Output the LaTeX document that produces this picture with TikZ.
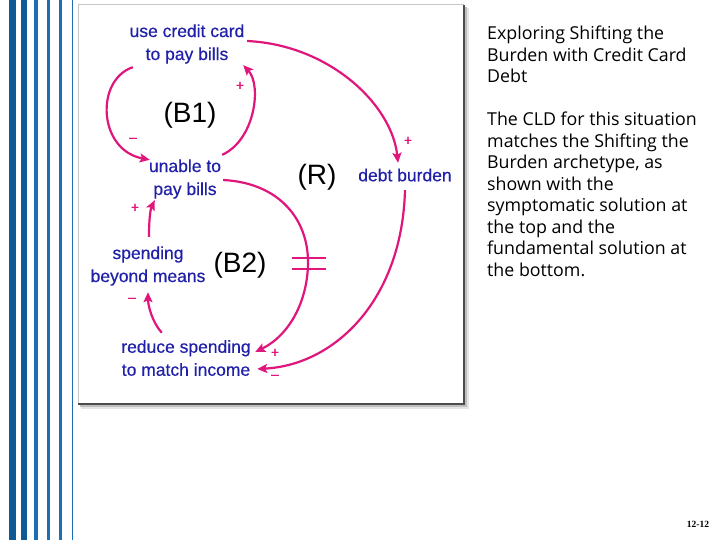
\documentclass[tikz,border=0pt]{standalone}
\usepackage{fontspec}
\setmainfont{Liberation Sans}
\newfontfamily\dgfont[FakeBold=0.4]{Liberation Sans}
\newfontfamily\rtfont{Open Sans}
\newfontfamily\pgfont{Liberation Serif}
\usetikzlibrary{arrows.meta,calc}
\definecolor{pinkc}{RGB}{224,22,124}
\definecolor{textb}{RGB}{32,32,168}
\definecolor{stripeA}{RGB}{14,90,150}
\definecolor{stripeB}{RGB}{30,110,178}
\begin{document}
\begin{tikzpicture}[x=1pt,y=-1pt,
  var/.style={font=\dgfont\fontsize{17.5}{23}\selectfont, text=textb, align=center, inner sep=0pt},
  looplbl/.style={font=\fontsize{28}{28}\selectfont, text=black, inner sep=0pt},
  link/.style={draw=pinkc, line width=2.2pt, -{Stealth[length=10pt,width=9pt,inset=2pt]}},
  pol/.style={font=\dgfont\fontsize{14}{14}\selectfont, text=pinkc, inner sep=0pt},
  hash/.style={draw=pinkc, line width=2.5pt},
  stripe/.style={fill=#1, draw=none},
  para/.style={anchor=north west, inner sep=0pt, align=left, font=\rtfont\fontsize{17.8}{21.5}\selectfont, text=black}
]
\useasboundingbox (0,0) rectangle (720,540);
\fill[white] (0,0) rectangle (720,540);

% left stripes
\fill[stripe=stripeA] (9,0) rectangle (16,540);
\fill[stripe=stripeA] (21,0) rectangle (27,540);
\fill[stripe=stripeB] (34,0) rectangle (38,540);
\fill[stripe=stripeB] (47,0) rectangle (50,540);
\fill[stripe=stripeB] (59,0) rectangle (61.5,540);
\fill[stripe=stripeB] (71.8,0) rectangle (72.8,540);

% picture frame with shadow
\fill[gray!20] (81,8) rectangle (468.5,408.5);
\fill[gray!50] (80,7) rectangle (467,407);
\fill[white] (78,5) rectangle (464,404);
\draw[gray!45, line width=1pt] (78,404) -- (78,5) -- (464,5);
\draw[black!70, line width=1.6pt] (464,5) -- (464,404) -- (78,404);

% variables
\node[var, minimum width=120pt, minimum height=46pt] (ucc) at (187,44) {use credit card\\to pay bills};
\node[var, minimum width=80pt, minimum height=46pt] (unable) at (185,179) {unable to\\pay bills};
\node[var, minimum width=94pt, minimum height=20pt] (debt) at (405,175) {debt burden};
\node[var, minimum width=120pt, minimum height=46pt] (spend) at (148,266) {spending\\beyond means};
\node[var, minimum width=136pt, minimum height=46pt] (reduce) at (186,358) {reduce spending\\to match income};

% loop labels
\node[looplbl] (b1) at (190,115) {(B1)};
\node[looplbl] (r) at (317,177) {(R)};
\node[looplbl] (b2) at (240,265) {(B2)};

% links
\draw[link] ($(ucc.east)+(0,-3)$) .. controls (330,45) and (392,105) .. ($(debt.north)+(-7,-2)$);
\draw[link] ($(ucc.south west)+(6,0)$) .. controls (95,80) and (98,150) .. ($(unable.north west)+(5,4)$);
\draw[link] ($(unable.north east)+(-3,-1)$) .. controls (255,140) and (262,85) .. ($(ucc.south east)+(-4,-2)$);
\draw[link] ($(unable.east)+(-2,1)$) .. controls (280,183) and (308,220) .. (308,262)
   .. controls (308,300) and (290,335) .. ($(reduce.east)+(1,-6)$);
\draw[link] ($(debt.south)+(0,5)$) .. controls (402,300) and (335,365) .. ($(reduce.east)+(3,11)$);
\draw[link] ($(reduce.north west)+(44,-2)$) .. controls (152,322) and (148,305) .. ($(spend.south)+(0,3)$);
\draw[link] ($(spend.north)+(1,-6)$) .. controls (149,215) and (151,208) .. ($(unable.south west)+(10,-2)$);

% delay mark
\draw[hash] (292,258) -- (326,258);
\draw[hash] (292,269) -- (326,269);

% polarities
\node[pol] (p1) at (240,86) {+};
\node[pol] (p2) at (408,141) {+};
\node[pol] (p3) at (133,140) {–};
\node[pol] (p4) at (135,208) {+};
\node[pol] (p5) at (132,300) {–};
\node[pol] (p6) at (275,353) {+};
\node[pol] (p7) at (275,377) {–};

% right text
\node[para] (title) at (487,26) {Exploring Shifting the\\Burden with Credit Card\\Debt};
\node[para] (body) at (487,112) {The CLD for this situation\\matches the Shifting the\\Burden archetype, as\\shown with the\\symptomatic solution at\\the top and the\\fundamental solution at\\the bottom.};

% page number
\node[inner sep=0pt, font=\pgfont\bfseries\fontsize{9.5}{10}\selectfont] (pg) at (698,524) {12-12};
\end{tikzpicture}
\end{document}
